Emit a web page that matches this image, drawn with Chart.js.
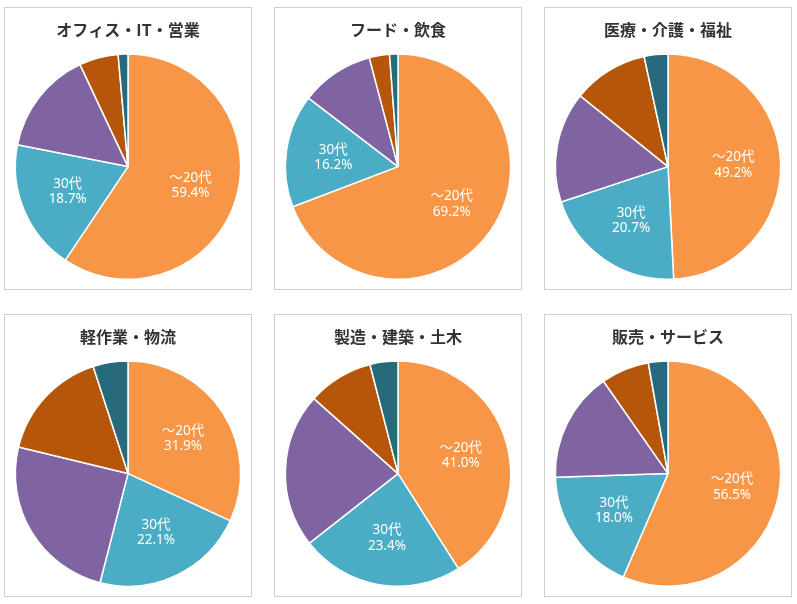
<!DOCTYPE html>
<html>
<head>
<meta charset="utf-8">
<script src="https://cdn.jsdelivr.net/npm/chart.js@4"></script>
<style>
  body { margin: 0; background: #fff; }
  .box { position: absolute; width: 246px; height: 281px; border: 1px solid #cfcfcf; }
  .box canvas { display: block; }
</style>
</head>
<body>
<div class="box" style="left:4px;top:7px"><canvas id="c1" width="246" height="281"></canvas></div>
<div class="box" style="left:274px;top:7px"><canvas id="c2" width="246" height="281"></canvas></div>
<div class="box" style="left:544px;top:7px"><canvas id="c3" width="246" height="281"></canvas></div>
<div class="box" style="left:4px;top:314px"><canvas id="c4" width="246" height="281"></canvas></div>
<div class="box" style="left:274px;top:314px"><canvas id="c5" width="246" height="281"></canvas></div>
<div class="box" style="left:544px;top:314px"><canvas id="c6" width="246" height="281"></canvas></div>
<script>
const ageLabels = ['～20代', '30代', '40代', '50代', '60代～'];
const titles = ['オフィス・IT・営業', 'フード・飲食', '医療・介護・福祉', '軽作業・物流', '製造・建築・土木', '販売・サービス'];

// percent by age group, one array per job category
const office = [59.4, 18.7, 14.9, 5.6, 1.4];
const food = [69.2, 16.2, 10.5, 2.9, 1.2];
const medical = [49.2, 20.7, 15.9, 10.8, 3.4];
const logistics = [31.9, 22.1, 24.8, 16.2, 5.0];
const construction = [41.0, 23.4, 22.2, 9.4, 4.0];
const sales = [56.5, 18.0, 15.8, 6.9, 2.8];

const colors = ['#F79646', '#4BACC6', '#8064A2', '#B5560A', '#266A7C'];

// white labels inside the first two slices
const sliceLabels = {
    id: 'sliceLabels',
    afterDatasetsDraw(chart) {
        const ctx = chart.ctx;
        const meta = chart.getDatasetMeta(0);
        const values = chart.data.datasets[0].data;
        ctx.save();
        ctx.fillStyle = '#fff';
        ctx.font = '13.5px "Noto Sans", "Noto Sans CJK JP", sans-serif';
        ctx.textAlign = 'center';
        ctx.textBaseline = 'middle';
        [0, 1].forEach(i => {
            const arc = meta.data[i];
            const mid = (arc.startAngle + arc.endAngle) / 2;
            const r = arc.outerRadius * 0.58;
            const x = arc.x + Math.cos(mid) * r;
            const y = arc.y + Math.sin(mid) * r;
            ctx.fillText(chart.data.labels[i], x, y - 7.5);
            ctx.fillText(values[i].toFixed(1) + '%', x, y + 8);
        });
        ctx.restore();
    }
};

function renderPie(id, title, values) {
    new Chart(document.getElementById(id), {
        type: 'pie',
        data: {
            labels: ageLabels,
            datasets: [{
                data: values,
                backgroundColor: colors,
                borderColor: '#fff',
                borderWidth: 1.5,
            }],
        },
        options: {
            responsive: false,
            animation: false,
            layout: { padding: { bottom: 9 } },
            plugins: {
                legend: { display: false },
                tooltip: { enabled: false },
                title: {
                    display: true,
                    text: title,
                    color: '#333',
                    font: { family: '"Noto Sans CJK JP", sans-serif', size: 16, weight: 'bold' },
                    padding: { top: 12, bottom: 14 },
                },
            },
        },
        plugins: [sliceLabels],
    });
}

renderPie('c1', titles[0], office);
renderPie('c2', titles[1], food);
renderPie('c3', titles[2], medical);
renderPie('c4', titles[3], logistics);
renderPie('c5', titles[4], construction);
renderPie('c6', titles[5], sales);
</script>
</body>
</html>
